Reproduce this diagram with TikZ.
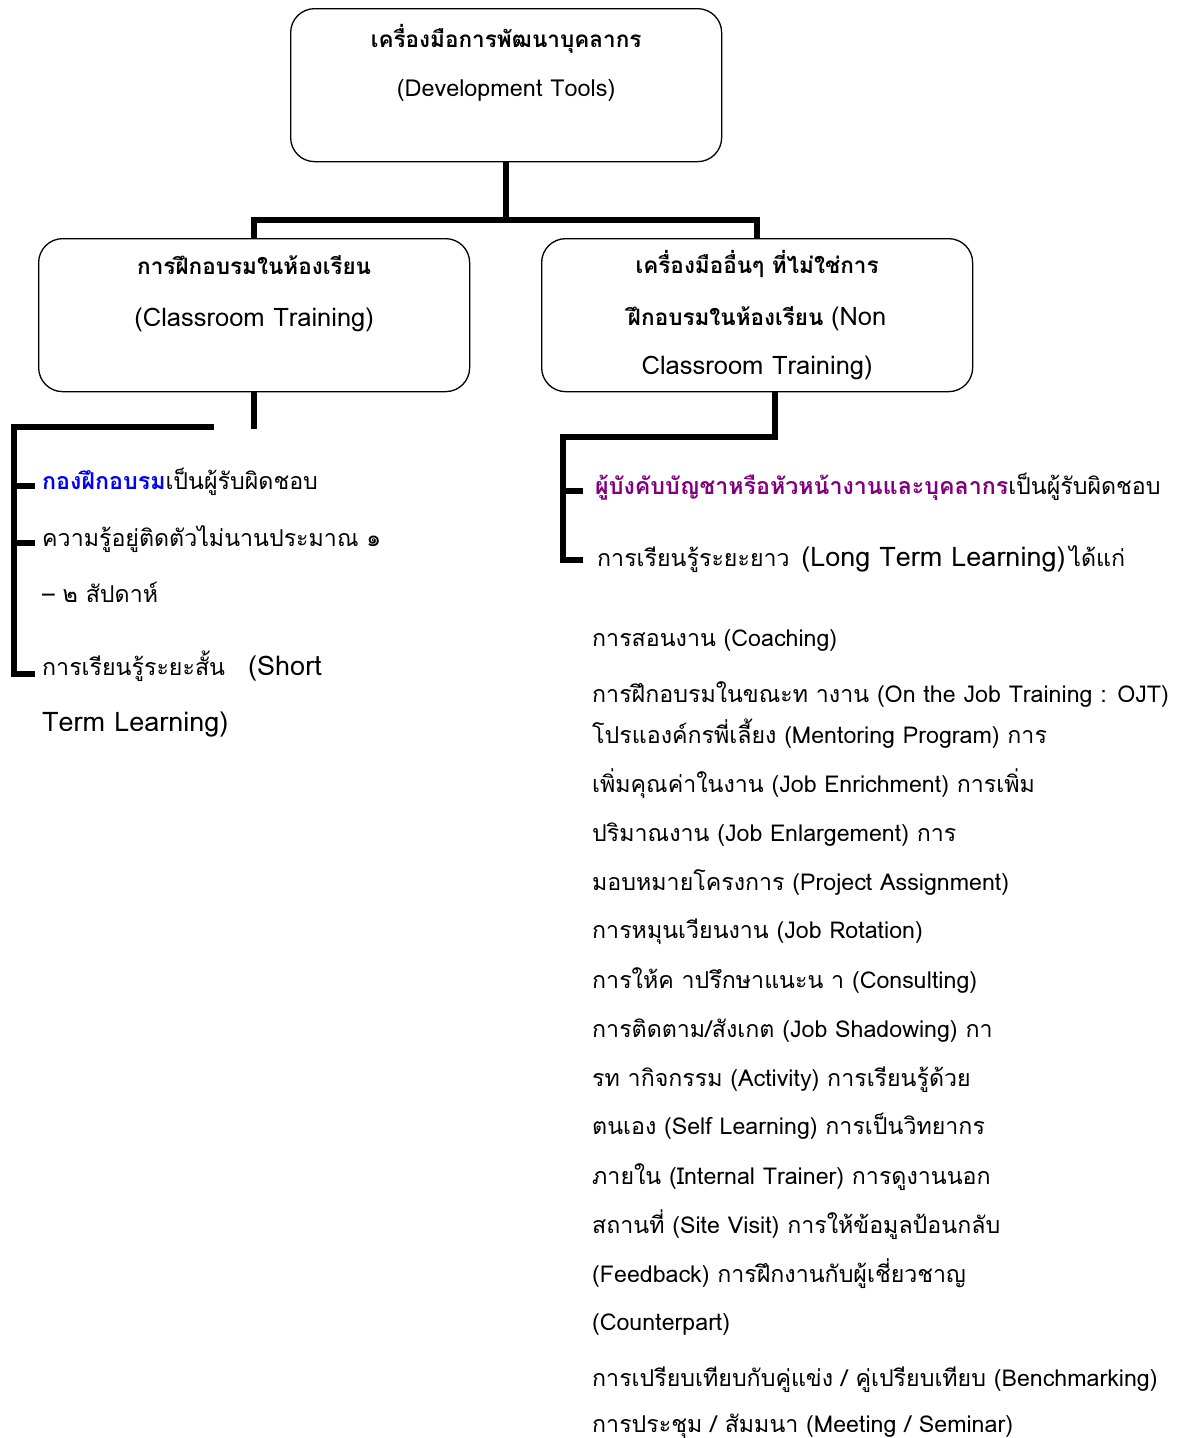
\documentclass[tikz,border=0pt]{standalone}
\usepackage{fontspec}
\setmainfont[Script=Thai]{Loma}
\usepackage{tikz}
\usetikzlibrary{positioning}
\definecolor{deptblue}{RGB}{0,0,255}
\definecolor{bosspurple}{RGB}{128,0,128}
\newcommand{\boxfont}{\fontsize{22.5}{49}\selectfont}
\newcommand{\boxlatin}[1]{{\fontsize{25.5}{49}\selectfont #1}}
\newcommand{\listfont}{\fontsize{23.2}{26}\selectfont}
\newcommand{\biglatin}[1]{{\fontsize{27}{30}\selectfont #1}}
\tikzset{
  toolbox/.style={draw, rounded corners=24pt, line width=1.3pt, minimum width=431pt,
    minimum height=153pt, align=center, font=\boxfont, anchor=north west},
  bar/.style={line width=6pt},
  item/.style={anchor=base west, inner sep=0pt, font=\listfont},
}

\begin{document}
\begin{tikzpicture}[x=1pt,y=-1pt]
    \useasboundingbox (0,0) rectangle (1186,1438);
    % the three boxes
    \node [toolbox] (top) at (290,8) {\textbf{เครื่องมือการพัฒนาบุคลากร}\\{\fontsize{23.4}{49}\selectfont (Development Tools)}\\\mbox{}};
    \node [toolbox] (classroom) at (38,238) {\textbf{การฝึกอบรมในห้องเรียน}\\[3pt]\boxlatin{(Classroom Training)}\\\mbox{}};
    \node [toolbox] (nonclass) at (541,238) {\textbf{เครื่องมืออื่นๆ ที่ไม่ใช่การ}\\[3pt]\textbf{ฝึกอบรมในห้องเรียน} \boxlatin{(Non}\\\boxlatin{Classroom Training)}};
    \draw [bar] (top.south) -- ++(0,58) coordinate (hub);
    \draw [bar] (classroom.north) |- (hub) -| (nonclass.north);
    \draw [bar] (classroom.south) -- ++(0,37);
    % left branch
    \node [item] (lt1) at (42,489) {\textcolor{deptblue}{\bfseries กองฝึกอบรม}เป็นผู้รับผิดชอบ};
    \node [item] (lt2) at (42,546) {ความรู้อยู่ติดตัวไม่นานประมาณ ๑};
    \node [item] (lt3) at (42,602) {– ๒ สัปดาห์};
    \node [item] (lt4) at (42,675) {การเรียนรู้ระยะสั้น\quad\biglatin{(Short}};
    \node [item] (lt5) at (42,731) {\biglatin{Term Learning)}};
    \coordinate (lcorner) at (14,427);
    \draw [bar] (214,427) -- (lcorner) -- (14,674) -- (35,674);
    \draw [bar] (14,486) -- (35,486);
    \draw [bar] (14,543) -- (35,543);
    % right branch
    \node [item] (rt1) at (595,494) {\textcolor{bosspurple}{\bfseries ผู้บังคับบัญชาหรือหัวหน้างานและบุคลากร}เป็นผู้รับผิดชอบ};
    \node [item] (rt2) at (597,566) {การเรียนรู้ระยะยาว\enspace\biglatin{(Long Term Learning)}\,ได้แก่};
    \coordinate (rcorner) at (563,437);
    \draw [bar] ([xshift=18pt]nonclass.south) |- (rcorner) -- (563,560) -- (583,560);
    \draw [bar] (563,491) -- (583,491);
    % long term tools
    \foreach \y/\t [count=\i] in {646/{การสอนงาน (Coaching)},
        702/{การฝึกอบรมในขณะท างาน (On the Job Training : OJT)},
        743/{โปรแองค์กรพี่เลี้ยง (Mentoring Program) การ},
        792/{เพิ่มคุณค่าในงาน (Job Enrichment) การเพิ่ม},
        841/{ปริมาณงาน (Job Enlargement) การ},
        890/{มอบหมายโครงการ (Project Assignment)},
        938/{การหมุนเวียนงาน (Job Rotation)},
        988/{การให้ค าปรึกษาแนะน า (Consulting)},
        1037/{การติดตาม/สังเกต (Job Shadowing) กา},
        1086/{รท ากิจกรรม (Activity) การเรียนรู้ด้วย},
        1134/{ตนเอง (Self Learning) การเป็นวิทยากร},
        1184/{ภายใน (Internal Trainer) การดูงานนอก},
        1233/{สถานที่ (Site Visit) การให้ข้อมูลป้อนกลับ},
        1282/{(Feedback) การฝึกงานกับผู้เชี่ยวชาญ},
        1330/{(Counterpart)},
        1386/{การเปรียบเทียบกับคู่แข่ง / คู่เปรียบเทียบ (Benchmarking)},
        1432/{การประชุม / สัมมนา (Meeting / Seminar)}}
        \node [item] (tool\i) at (592,\y) {\t};
\end{tikzpicture}
\end{document}
